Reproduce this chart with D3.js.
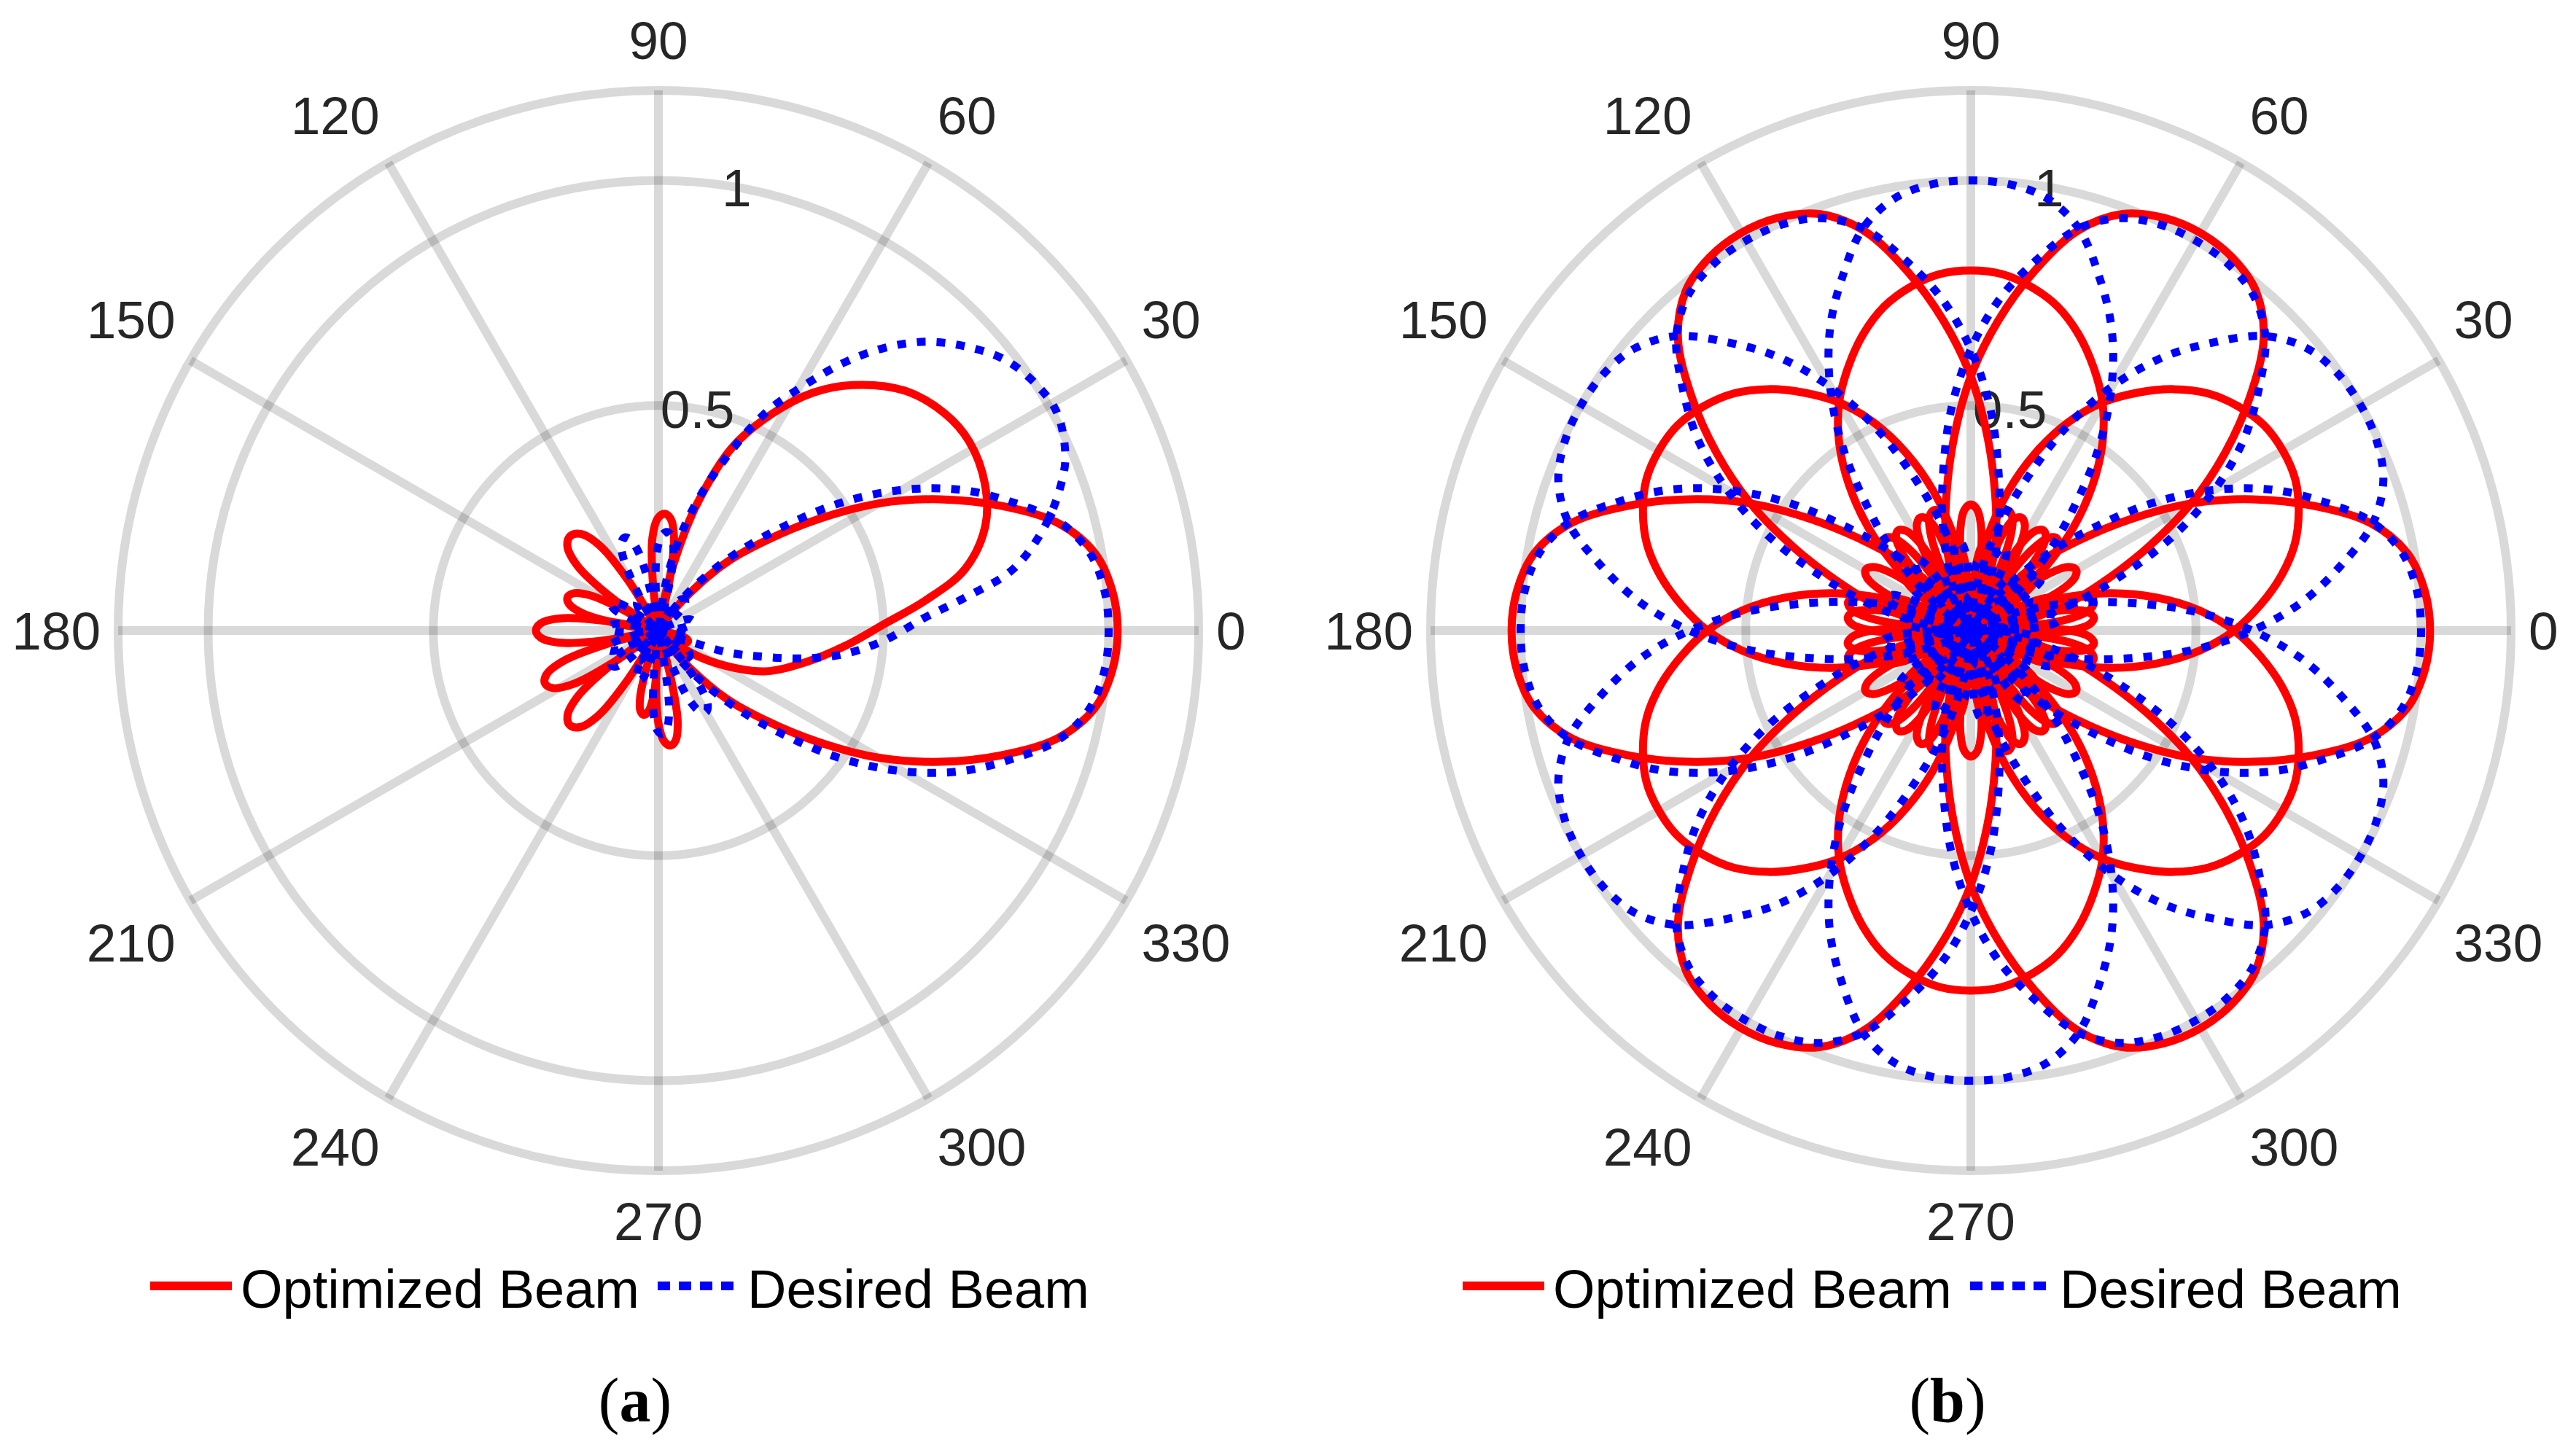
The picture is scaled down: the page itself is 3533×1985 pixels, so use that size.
<!DOCTYPE html>
<html>
<head>
<meta charset="utf-8">
<script src="https://cdn.jsdelivr.net/npm/d3@7"></script>
<style>
  html, body { margin: 0; padding: 0; background: #fff; }
  svg { display: block; }
</style>
</head>
<body>
<div id="wrapper"></div>
<script>
// polar axes
const thetaTicks = [0, 30, 60, 90, 120, 150, 180, 210, 240, 270, 300, 330]
const rTicks = [0.5, 1]
const rMax = 1.2

// lobe shapes: [angle offset (deg), magnitude]
const desiredLobe = [[-60, 0], [-55, 0.06], [-50, 0.14], [-45, 0.24], [-40, 0.355], [-35, 0.495], [-30, 0.625], [-25, 0.74],
  [-20, 0.835], [-15, 0.925], [-10, 0.975], [-5, 0.995], [0, 1.0], [5, 0.995], [10, 0.975], [15, 0.925], [20, 0.835],
  [25, 0.74], [30, 0.625], [35, 0.495], [40, 0.355], [45, 0.24], [50, 0.14], [55, 0.06], [60, 0]]

const optimizedLobeA = [[-57, 0], [-55, 0.03], [-50, 0.11], [-45, 0.215], [-40, 0.31], [-35, 0.43], [-30, 0.565], [-25, 0.69],
  [-20, 0.81], [-15, 0.92], [-10, 0.985], [-5, 1.012], [0, 1.02], [5, 1.012], [10, 0.985], [15, 0.92], [20, 0.81],
  [25, 0.69], [30, 0.565], [35, 0.43], [40, 0.31], [45, 0.215], [50, 0.11], [55, 0.03], [57, 0]]

const optimizedLobeB = [[-63, 0], [-60, 0.03], [-55, 0.11], [-50, 0.21], [-45, 0.32], [-40, 0.42], [-35, 0.51], [-30, 0.585],
  [-25, 0.645], [-20, 0.7], [-15, 0.745], [-10, 0.775], [-5, 0.795], [0, 0.8], [5, 0.795], [10, 0.775], [15, 0.745],
  [20, 0.7], [25, 0.645], [30, 0.585], [35, 0.51], [40, 0.42], [45, 0.32], [50, 0.21], [55, 0.11], [60, 0.03], [63, 0]]

// sidelobe petal profile: [fraction of half width, fraction of peak]
const petalShape = [[-1, 0], [-0.85, 0.45], [-0.6, 0.8], [-0.3, 0.96], [0, 1], [0.3, 0.96], [0.6, 0.8], [0.85, 0.45], [1, 0]]

// (a): beams at 0 and 30 deg, [angle (deg), magnitude]
const leftOptimized30 = [[-40, 0], [-34, 0.092], [-27.8, 0.167], [-21, 0.253], [-12.3, 0.333], [-4.7, 0.416], [1.8, 0.504],
  [6.4, 0.596], [11.3, 0.694], [17.7, 0.762], [24.2, 0.795], [31.3, 0.808], [37.2, 0.798], [44.2, 0.764], [51.6, 0.696],
  [57, 0.63], [62.2, 0.546], [68, 0.44], [73, 0.295], [76.5, 0.173], [80, 0.06], [82, 0]]

const leftDesired30 = [[-22, 0], [-17.7, 0.155], [-13.9, 0.243], [-10.7, 0.332], [-7.1, 0.418], [-2.4, 0.504], [2.8, 0.593],
  [6.1, 0.684], [9.8, 0.799], [15.1, 0.889], [20, 0.952], [23.3, 0.984], [28.6, 1.009], [33, 1.002], [38, 0.977],
  [42.9, 0.928], [47.3, 0.873], [51.3, 0.805], [55.2, 0.726], [59.2, 0.635], [63.9, 0.537], [70, 0.379], [75.9, 0.24],
  [81, 0.11], [86, 0]]

// petals: [direction (deg), peak, half width (deg)]
const leftOptimizedPetals = [[87, 0.26, 11], [133, 0.287, 14], [160, 0.215, 12], [180, 0.272, 12], [205, 0.278, 12],
  [227, 0.288, 13], [260, 0.19, 9], [276, 0.257, 10], [315, 0.09, 10], [340, 0.07, 10]]

const leftDesiredPetals = [[85, 0.22, 10], [110, 0.22, 10], [150, 0.12, 10], [176, 0.11, 10], [200, 0.12, 10],
  [217, 0.13, 10], [248, 0.12, 10], [272, 0.23, 9], [300, 0.21, 10],
  [15, 0.08, 12], [50, 0.09, 12], [125, 0.08, 12], [160, 0.07, 12], [235, 0.08, 12], [320, 0.09, 12], [345, 0.07, 12]]

// (b): twelve beams
const rightDirsA = [0, 60, 120, 180, 240, 300]
const rightDirsB = [30, 90, 150, 210, 270, 330]
const rightDesiredDirs = [0, 30, 60, 90, 120, 150, 180, 210, 240, 270, 300, 330]

const rightOptimizedPetals = [[6, 0.275, 10], [13, 0.28, 10], [30, 0.27, 10], [47, 0.28, 10], [54, 0.275, 10], [66, 0.275, 10],
  [73, 0.28, 10], [90, 0.28, 10], [107, 0.28, 10], [114, 0.275, 10], [126, 0.275, 10], [133, 0.28, 10], [150, 0.27, 10],
  [167, 0.28, 10], [174, 0.275, 10], [186, 0.275, 10], [193, 0.28, 10], [210, 0.27, 10], [227, 0.28, 10], [234, 0.275, 10],
  [246, 0.275, 10], [253, 0.28, 10], [270, 0.28, 10], [287, 0.28, 10], [294, 0.275, 10], [306, 0.275, 10], [313, 0.28, 10],
  [330, 0.27, 10], [347, 0.28, 10], [354, 0.275, 10],
  [20, 0.2, 8], [40, 0.19, 8], [80, 0.2, 8], [100, 0.2, 8], [140, 0.19, 8], [160, 0.2, 8], [200, 0.2, 8],
  [220, 0.19, 8], [260, 0.2, 8], [280, 0.2, 8], [320, 0.19, 8], [340, 0.2, 8]]

const rightDesiredPetals = [[8, 0.2, 8], [22, 0.16, 8], [38, 0.2, 8], [52, 0.15, 8], [68, 0.2, 8], [82, 0.16, 8],
  [98, 0.2, 8], [112, 0.15, 8], [128, 0.2, 8], [142, 0.16, 8], [158, 0.2, 8], [172, 0.15, 8], [188, 0.2, 8],
  [202, 0.16, 8], [218, 0.2, 8], [232, 0.15, 8], [248, 0.2, 8], [262, 0.16, 8], [278, 0.2, 8], [292, 0.15, 8],
  [308, 0.2, 8], [322, 0.16, 8], [338, 0.2, 8], [352, 0.15, 8],
  [0, 0.08, 12], [45, 0.09, 12], [90, 0.08, 12], [135, 0.09, 12], [180, 0.08, 12], [225, 0.09, 12], [270, 0.08, 12], [315, 0.09, 12]]

const legendNames = ["Optimized Beam", "Desired Beam"]

let dimensions = {
  width: 3533,
  height: 1985,
  outerRadius: 741,
  labelGap: 24,
}

const svg = d3.select("#wrapper")
  .append("svg")
  .attr("width", dimensions.width)
  .attr("height", dimensions.height)
  .style("background", "#fff")

const rScale = d3.scaleLinear().domain([0, rMax]).range([0, dimensions.outerRadius])
const toRad = deg => deg * Math.PI / 180

const radial = d3.lineRadial()
  .angle(d => toRad(90 - d[0]))
  .radius(d => rScale(d[1]))
  .curve(d3.curveCatmullRom.alpha(0.5))

const place = (shape, dir) => shape.map(([off, m]) => [dir + off, m])
const petal = ([dir, peak, hw]) => petalShape.map(([f, m]) => [dir + f * hw, peak * m])
const side = v => Math.abs(v) < 0.01 ? 0 : Math.sign(v)

const fontSans = "'Liberation Sans', Arial, Helvetica, sans-serif"

function drawPanel(cx, cy, optimized, desired, tag) {
  const g = svg.append("g").attr("transform", `translate(${cx},${cy})`)
  const R = rScale(rMax)

  const grid = g.append("g")
    .attr("fill", "none")
    .attr("stroke", "#000")
    .attr("stroke-opacity", 0.15)
    .attr("stroke-width", 12)

  grid.selectAll("circle")
    .data([...rTicks, rMax])
    .join("circle")
    .attr("r", d => rScale(d))

  grid.selectAll("line")
    .data(thetaTicks)
    .join("line")
    .attr("x2", d => R * Math.cos(toRad(d)))
    .attr("y2", d => -R * Math.sin(toRad(d)))

  // theta labels: anchored at a corner just outside the rim
  g.selectAll(".theta-label")
    .data(thetaTicks)
    .join("text")
    .attr("class", "theta-label")
    .attr("font-family", fontSans)
    .attr("font-size", 73)
    .attr("fill", "#262626")
    .attr("text-anchor", "middle")
    .text(d => d)
    .each(function (d) {
      const w = this.getComputedTextLength()
      const a = toRad(d)
      const p = R + dimensions.labelGap
      const x = p * Math.cos(a) + side(Math.cos(a)) * w / 2
      const y = p * Math.sin(a) + side(Math.sin(a)) * 45
      d3.select(this)
        .attr("x", x)
        .attr("y", -y + 26)
    })

  g.selectAll(".r-label")
    .data(rTicks)
    .join("text")
    .attr("class", "r-label")
    .attr("font-family", fontSans)
    .attr("font-size", 73)
    .attr("fill", "#262626")
    .attr("text-anchor", "middle")
    .attr("x", d => rScale(d) * Math.cos(toRad(80)))
    .attr("y", d => -rScale(d) * Math.sin(toRad(80)) + 26)
    .text(d => d)

  g.append("g")
    .attr("fill", "none")
    .attr("stroke", "#ff0000")
    .attr("stroke-width", 11)
    .attr("stroke-linejoin", "round")
    .selectAll("path")
    .data(optimized)
    .join("path")
    .attr("d", d => radial([[d[0][0], 0], ...d, [d[d.length - 1][0], 0]]))

  g.append("g")
    .attr("fill", "none")
    .attr("stroke", "#0000ff")
    .attr("stroke-width", 11)
    .attr("stroke-dasharray", "12 15")
    .selectAll("path")
    .data(desired)
    .join("path")
    .attr("d", d => radial([[d[0][0], 0], ...d, [d[d.length - 1][0], 0]]))

  // legend
  const lg = g.append("g").attr("transform", "translate(0, 899)")
  lg.append("line")
    .attr("x1", -697).attr("x2", -585)
    .attr("stroke", "#ff0000").attr("stroke-width", 12)
  lg.append("line")
    .attr("x1", -1).attr("x2", 109)
    .attr("stroke", "#0000ff").attr("stroke-width", 12)
    .attr("stroke-dasharray", "17 12")
  lg.selectAll("text")
    .data(legendNames)
    .join("text")
    .attr("x", (d, i) => i === 0 ? -573 : 122)
    .attr("y", 30)
    .attr("font-family", fontSans)
    .attr("font-size", 74)
    .attr("fill", "#000")
    .text(d => d)

  const t = g.append("text")
    .attr("x", -32)
    .attr("y", 1085)
    .attr("text-anchor", "middle")
    .attr("font-family", "'Liberation Serif', 'Times New Roman', serif")
    .attr("font-size", 86)
    .attr("fill", "#000")
  t.append("tspan").text("(")
  t.append("tspan").attr("font-weight", "bold").text(tag)
  t.append("tspan").text(")")
}

const leftOptimized = [place(optimizedLobeA, 0), leftOptimized30, ...leftOptimizedPetals.map(petal)]
const leftDesired = [place(desiredLobe, 0), leftDesired30, ...leftDesiredPetals.map(petal)]

const rightOptimized = [
  ...rightOptimizedPetals.map(petal),
  ...rightDirsB.map(d => place(optimizedLobeB, d)),
  ...rightDirsA.map(d => place(optimizedLobeA, d)),
]
const rightDesired = [
  ...rightDesiredPetals.map(petal),
  ...rightDesiredDirs.map(d => place(desiredLobe, d)),
]

drawPanel(903, 865, leftOptimized, leftDesired, "a")
drawPanel(2703, 865, rightOptimized, rightDesired, "b")
</script>
</body>
</html>
